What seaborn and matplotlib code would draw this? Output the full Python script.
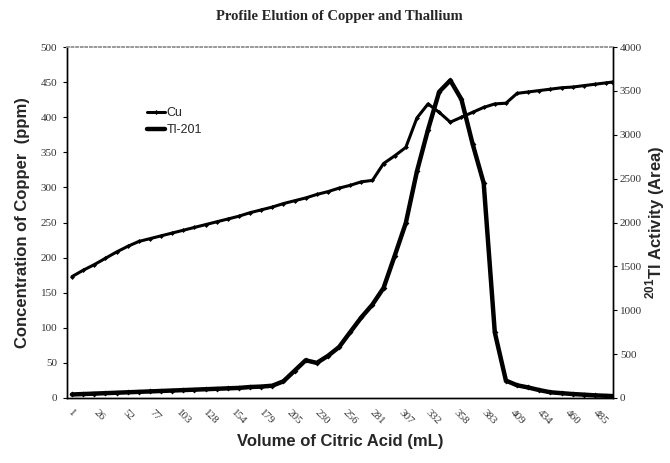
import matplotlib
matplotlib.use("Agg")
import matplotlib.pyplot as plt
import seaborn as sns
import pandas as pd
from matplotlib.lines import Line2D

# volume of citric acid (mL), one reading roughly every 10 mL
volume = [1, 11.2, 21.4, 31.6, 41.8, 52, 62.2, 72.4, 82.6, 92.8,
          103, 113.2, 123.4, 133.6, 143.8, 154, 164.2, 174.4, 184.6, 194.8,
          205, 215.2, 225.4, 235.6, 245.8, 256, 266.2, 276.4, 286.6, 296.8,
          307, 317.2, 327.4, 337.6, 347.8, 358, 368.2, 378.4, 388.6, 398.8,
          409, 419.2, 429.4, 439.6, 449.8, 460, 470.2, 480.4, 490.6, 495.7]

cu_ppm = [173, 182, 190, 199, 208, 216, 223, 227, 231, 235,
          239, 243, 247, 251, 255, 259, 264, 268, 272, 277,
          281, 285, 290, 294, 299, 303, 308, 310, 334, 345,
          357, 399, 419, 407, 393, 400, 407, 414, 419, 420,
          434, 436, 438, 440, 442, 443, 445, 447, 449, 450]

tl_activity = [40, 45, 50, 55, 60, 65, 70, 75, 80, 85,
               90, 95, 100, 105, 110, 115, 125, 130, 140, 190,
               310, 430, 400, 480, 580, 750, 918, 1065, 1254, 1620,
               1994, 2583, 3060, 3490, 3620, 3404, 2898, 2450, 747, 198,
               145, 120, 90, 65, 55, 45, 38, 30, 25, 22]

tick_vols = [1, 26, 52, 77, 103, 128, 154, 179, 205, 230,
             256, 281, 307, 332, 358, 383, 409, 434, 460, 485]

df = pd.DataFrame({"volume": volume, "Cu": cu_ppm, "Tl-201": tl_activity})

sns.set_theme(style="white")
plt.rcParams["font.family"] = ["Liberation Serif", "DejaVu Serif"]
plt.rcParams["mathtext.fontset"] = "custom"
plt.rcParams["mathtext.rm"] = "Liberation Sans"
plt.rcParams["mathtext.bf"] = "Liberation Sans:bold"

fig = plt.figure(figsize=(6.7, 4.63), dpi=100)
ax = fig.add_axes([0.1, 0.1404, 0.815, 0.758])
ax2 = ax.twinx()

sns.lineplot(data=df, x="volume", y="Cu", ax=ax, color="black", lw=2.2,
             marker="D", markersize=2.5, markeredgewidth=0, legend=False)
sns.lineplot(data=df, x="volume", y="Tl-201", ax=ax2, color="black", lw=3.2,
             marker="D", markersize=3, markeredgewidth=0, legend=False)

ax.set_xlim(-3.6, 497)
ax.set_ylim(0, 500)
ax2.set_ylim(0, 4000)
ax.set_yticks(range(0, 501, 50))
ax2.set_yticks(range(0, 4001, 500))
ax.set_xticks(tick_vols)
ax.set_xticklabels([str(v) for v in tick_vols], rotation=-45, ha="center")

for a in (ax, ax2):
    a.tick_params(labelsize=8, labelcolor="#333333", length=3, width=0.8,
                  color="black", pad=2)
    for side in ("left", "right", "bottom"):
        a.spines[side].set_color("black")
        a.spines[side].set_linewidth(1.0)
    a.spines["top"].set_color("#999999")
    a.spines["top"].set_linestyle(":")
ax.tick_params(axis="x", pad=4)
ax.tick_params(axis="y", pad=4)

sans_bold = dict(family="Liberation Sans", fontweight="bold", fontsize=12)
ax.set_xlabel("Volume of Citric Acid (mL)", labelpad=6, **sans_bold)
ax.set_ylabel("Concentration of Copper  (ppm)", labelpad=8, **sans_bold)
ax2.set_ylabel(r"$^{\mathbf{201}}$Tl Activity (Area)", labelpad=1, **sans_bold)

fig.text(0.507, 0.965, "Profile Elution of Copper and Thallium",
         ha="center", va="center", fontsize=10.5, fontweight="bold")

handles = [Line2D([], [], color="black", lw=2.2, marker="D", markersize=2.5,
                  markeredgewidth=0),
           Line2D([], [], color="black", lw=3.2)]
ax.legend(handles, ["Cu", "Tl-201"], loc="upper left",
          bbox_to_anchor=(0.125, 0.86), frameon=False, handlelength=1.5,
          handletextpad=0.1, labelspacing=0.4,
          prop={"family": "Liberation Sans", "size": 9})

fig.savefig("out.png", dpi=100)
